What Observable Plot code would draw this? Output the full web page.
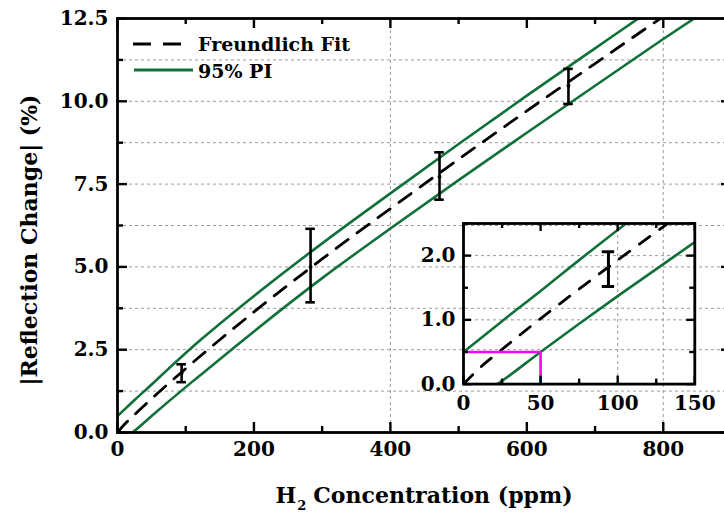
<!DOCTYPE html>
<html><head><meta charset="utf-8">
<script src="https://cdn.jsdelivr.net/npm/d3@7"></script>
<script src="https://cdn.jsdelivr.net/npm/@observablehq/plot@0.6"></script>
<style>
html,body{margin:0;padding:0;background:#fff;overflow:hidden;}
#wrap{position:relative;width:735px;height:515px;overflow:hidden;font-family:"DejaVu Serif",serif;font-weight:bold;color:#000;}
#main,#inset,#legend,.title{position:absolute;}
.title{font-size:22px;white-space:nowrap;line-height:1;}
</style></head><body><div id="wrap"></div>
<script>
// ---- Data ----
const fitPpm   = [0, 10, 25, 50, 75, 100, 125, 150, 200, 300, 400, 500, 600, 700, 800, 900];
const fitVal   = [0, 0.24, 0.54, 1.02, 1.48, 1.93, 2.37, 2.80, 3.64, 5.24, 6.76, 8.25, 9.71, 11.14, 12.56, 13.95];
const upperPpm = [0, 10, 25, 50, 75, 100, 125, 150, 200, 300, 400, 500, 600, 700, 800, 900];
const upperVal = [0.50, 0.69, 0.98, 1.45, 1.93, 2.40, 2.85, 3.28, 4.12, 5.71, 7.22, 8.71, 10.17, 11.60, 13.02, 14.40];
const lowerPpm = [22, 25, 50, 75, 100, 125, 150, 200, 300, 400, 500, 600, 700, 800, 900];
const lowerVal = [0, 0.05, 0.50, 0.94, 1.37, 1.79, 2.21, 3.05, 4.66, 6.16, 7.62, 9.05, 10.47, 11.88, 13.25];

const measPpm  = [94, 283, 472, 661];
const measVal  = [1.80, 5.00, 7.72, 10.47];
const measLow  = [1.52, 3.93, 7.03, 9.92];
const measHigh = [2.06, 6.15, 8.46, 10.98];

const lodPpm = 50;   // limit of detection (ppm)
const lodVal = 0.5;  // PI upper bound at zero (%)

const xMajor = [0, 200, 400, 600, 800];
const xMinor = [100, 300, 500, 700];
const xGrid  = [400, 800];
const yMajor = [0, 2.5, 5, 7.5, 10, 12.5];
const yMinor = [1.25, 3.75, 6.25, 8.75, 11.25];
const yGrid  = [1.25, 2.5, 3.75, 5, 6.25, 7.5, 8.75, 10, 11.25];

const insXMajor = [0, 50, 100, 150];
const insXMinor = [25, 75, 125];
const insYMajor = [0, 1, 2];
const insYMinor = [0.5, 1.5, 2.5];
const insXGrid  = [100];
const insYGrid  = [1, 2];

const legendLabels = ["Freundlich Fit", "95% PI"];
const xTitle = "Concentration (ppm)";
const yTitle = "|Reflection Change| (%)";

// ---- styles ----
const GREEN = "#11703a";
const GRID = "#9a9a9a";

const rows = (xs, ys) => xs.map((x, i) => ({x, y: ys[i]}));
const fit = rows(fitPpm, fitVal);
const upper = rows(upperPpm, upperVal);
const lower = rows(lowerPpm, lowerVal);
const meas = measPpm.map((x, i) => ({x, y: measVal[i], lo: measLow[i], hi: measHigh[i]}));
const lod = [{x: 0, y: lodVal}, {x: lodPpm, y: lodVal}, {x: lodPpm, y: 0}];

const wrap = document.getElementById("wrap");
const font = {fontFamily: "DejaVu Serif", fontSize: "20px", fontWeight: "bold", background: "none", maxWidth: "none", overflow: "visible"};

// ---- main chart ----
const W = 735, H = 515, mL = 117, mT = 18, mR = 4, mB = 83;
const iw = W - mL - mR, ih = H - mT - mB;
const majLen = 10, minLen = 6;
const capMain = 7;

const main = Plot.plot({
  width: W, height: H, marginLeft: mL, marginTop: mT, marginRight: mR, marginBottom: mB,
  style: font,
  x: {domain: [0, 900], label: null},
  y: {domain: [0, 12.5], label: null},
  marks: [
    Plot.gridY(yGrid, {stroke: GRID, strokeOpacity: 1, strokeDasharray: "3,3", strokeWidth: 1}),
    Plot.gridX(xGrid, {stroke: GRID, strokeOpacity: 1, strokeDasharray: "3,3", strokeWidth: 1}),
    Plot.line(upper, {x: "x", y: "y", stroke: GREEN, strokeWidth: 2.6, curve: "monotone-x", clip: true}),
    Plot.line(lower, {x: "x", y: "y", stroke: GREEN, strokeWidth: 2.6, curve: "monotone-x", clip: true}),
    Plot.line(fit, {x: "x", y: "y", stroke: "black", strokeWidth: 2.8, strokeDasharray: "15,11", curve: "monotone-x", clip: true}),
    Plot.ruleX(meas, {x: "x", y1: "lo", y2: "hi", stroke: "black", strokeWidth: 2.6}),
    Plot.ruleY(meas, {y: "hi", x1: d => d.x - capMain, x2: d => d.x + capMain, stroke: "black", strokeWidth: 2.6}),
    Plot.ruleY(meas, {y: "lo", x1: d => d.x - capMain, x2: d => d.x + capMain, stroke: "black", strokeWidth: 2.6}),
    Plot.dot(meas, {x: "x", y: "y", r: 2, fill: "black"}),
    // inward ticks
    Plot.tickX(xMajor, {x: d => d, insetTop: ih - majLen, stroke: "black", strokeWidth: 2.4}),
    Plot.tickX(xMinor, {x: d => d, insetTop: ih - minLen, stroke: "black", strokeWidth: 2.4}),
    Plot.tickX(xMajor, {x: d => d, insetBottom: ih - majLen, stroke: "black", strokeWidth: 2.4}),
    Plot.tickX(xMinor, {x: d => d, insetBottom: ih - minLen, stroke: "black", strokeWidth: 2.4}),
    Plot.tickY(yMajor, {y: d => d, insetRight: iw - majLen, stroke: "black", strokeWidth: 2.4}),
    Plot.tickY(yMinor, {y: d => d, insetRight: iw - minLen, stroke: "black", strokeWidth: 2.4}),
    Plot.tickY(yMajor, {y: d => d, insetLeft: iw - majLen, stroke: "black", strokeWidth: 2.4}),
    Plot.tickY(yMinor, {y: d => d, insetLeft: iw - minLen, stroke: "black", strokeWidth: 2.4}),
    Plot.axisX({ticks: xMajor, tickSize: 0, tickPadding: 9, tickFormat: d => String(d), label: null}),
    Plot.axisY({ticks: yMajor, tickSize: 0, tickPadding: 9, tickFormat: d3.format(".1f"), label: null}),
    Plot.frame({stroke: "black", strokeWidth: 2.8})
  ]
});
main.id = "main";
main.style.left = "0px"; main.style.top = "0px";
wrap.appendChild(main);

// ---- inset ----
const iL = 45, iT = 8, iR = 12, iB = 32;
const insFrameW = 231.3, insFrameH = 160.6;
const IW = iL + insFrameW + iR, IH = iT + insFrameH + iB;
const insMaj = 8, insMin = 5, capInset = 4;

const inset = Plot.plot({
  width: IW, height: IH, marginLeft: iL, marginTop: iT, marginRight: iR, marginBottom: iB,
  style: font,
  x: {domain: [0, 150], label: null},
  y: {domain: [0, 2.5], label: null},
  marks: [
    Plot.gridY(insYGrid, {stroke: GRID, strokeOpacity: 1, strokeDasharray: "3,3", strokeWidth: 1}),
    Plot.gridX(insXGrid, {stroke: GRID, strokeOpacity: 1, strokeDasharray: "3,3", strokeWidth: 1}),
    Plot.line(upper, {x: "x", y: "y", stroke: GREEN, strokeWidth: 2.6, curve: "monotone-x", clip: true}),
    Plot.line(lower, {x: "x", y: "y", stroke: GREEN, strokeWidth: 2.6, curve: "monotone-x", clip: true}),
    Plot.line(fit, {x: "x", y: "y", stroke: "black", strokeWidth: 2.8, strokeDasharray: "13,12", curve: "monotone-x", clip: true}),
    Plot.line(lod, {x: "x", y: "y", stroke: "#ff00ff", strokeWidth: 2.6}),
    Plot.ruleX(meas, {x: "x", y1: "lo", y2: "hi", stroke: "black", strokeWidth: 3, clip: true}),
    Plot.ruleY(meas, {y: "hi", x1: d => d.x - capInset, x2: d => d.x + capInset, stroke: "black", strokeWidth: 3, clip: true}),
    Plot.ruleY(meas, {y: "lo", x1: d => d.x - capInset, x2: d => d.x + capInset, stroke: "black", strokeWidth: 3, clip: true}),
    Plot.tickX(insXMajor, {x: d => d, insetTop: insFrameH - insMaj, stroke: "black", strokeWidth: 2.4}),
    Plot.tickX(insXMinor, {x: d => d, insetTop: insFrameH - insMin, stroke: "black", strokeWidth: 2.4}),
    Plot.tickX(insXMajor, {x: d => d, insetBottom: insFrameH - insMaj, stroke: "black", strokeWidth: 2.4}),
    Plot.tickX(insXMinor, {x: d => d, insetBottom: insFrameH - insMin, stroke: "black", strokeWidth: 2.4}),
    Plot.tickY(insYMajor, {y: d => d, insetRight: insFrameW - insMaj, stroke: "black", strokeWidth: 2.4}),
    Plot.tickY(insYMinor, {y: d => d, insetRight: insFrameW - insMin, stroke: "black", strokeWidth: 2.4}),
    Plot.tickY(insYMajor, {y: d => d, insetLeft: insFrameW - insMaj, stroke: "black", strokeWidth: 2.4}),
    Plot.tickY(insYMinor, {y: d => d, insetLeft: insFrameW - insMin, stroke: "black", strokeWidth: 2.4}),
    Plot.axisX({ticks: insXMajor, tickSize: 0, tickPadding: 12, tickFormat: d => String(d), label: null}),
    Plot.axisY({ticks: insYMajor, tickSize: 0, tickPadding: 8, tickFormat: d3.format(".1f"), label: null}),
    Plot.frame({stroke: "black", strokeWidth: 2.8})
  ]
});
inset.id = "inset";
inset.style.left = (462.7 - iL) + "px";
inset.style.top = (222.7 - iT) + "px";
wrap.appendChild(inset);

// ---- legend ----
const ns = "http://www.w3.org/2000/svg";
const leg = document.createElementNS(ns, "svg");
leg.setAttribute("id", "legend");
leg.setAttribute("width", 420); leg.setAttribute("height", 90);
leg.style.left = "0px"; leg.style.top = "0px";
leg.innerHTML =
  `<line x1="133" y1="44" x2="182" y2="44" stroke="black" stroke-width="3" stroke-dasharray="18,12"/>` +
  `<line x1="134" y1="70" x2="193" y2="70" stroke="${GREEN}" stroke-width="3"/>` +
  `<text x="198" y="51" font-family="DejaVu Serif" font-weight="bold" font-size="19">${legendLabels[0]}</text>` +
  `<text x="198" y="78" font-family="DejaVu Serif" font-weight="bold" font-size="19">${legendLabels[1]}</text>`;
wrap.appendChild(leg);

// ---- axis titles ----
const xt = document.createElement("div");
xt.className = "title";
xt.innerHTML = `H<span style="font-size:13px;position:relative;top:7px;margin-left:1px;margin-right:7px">2</span>${xTitle}`;
wrap.appendChild(xt);
xt.style.left = (mL + iw / 2 - xt.offsetWidth / 2) + "px";
xt.style.top = "484px";

const yt = document.createElement("div");
yt.className = "title";
yt.textContent = yTitle;
wrap.appendChild(yt);
const yw = yt.offsetWidth, yh = yt.offsetHeight;
yt.style.left = (28 - yw / 2) + "px";
yt.style.top = (240 - yh / 2) + "px";
yt.style.transform = "rotate(-90deg)";
</script>
</body></html>
